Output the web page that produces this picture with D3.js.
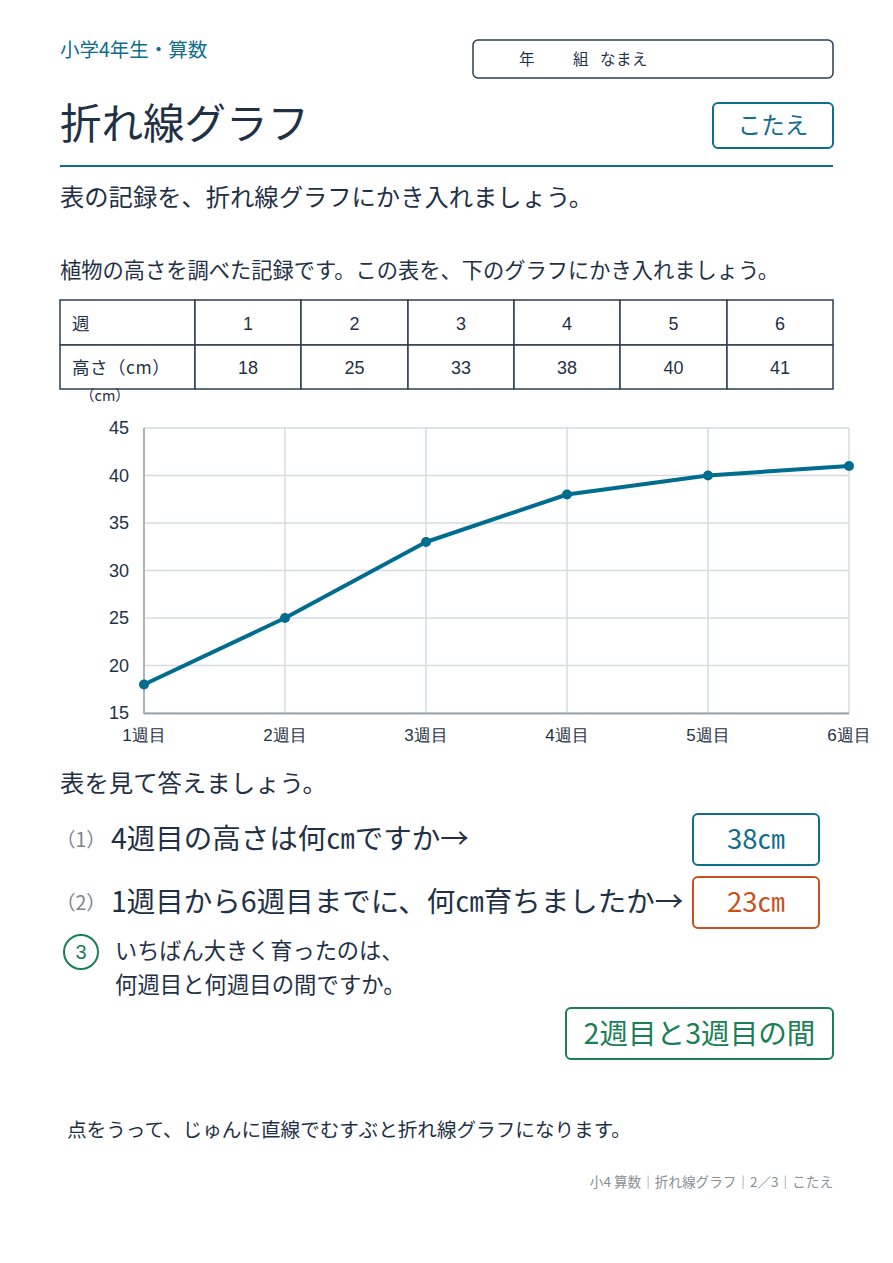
<!DOCTYPE html>
<html><head><meta charset="utf-8">
<script src="https://cdn.jsdelivr.net/npm/d3@7"></script>
<style>
html,body{margin:0;padding:0;background:#fff;}
svg{display:block;}
</style></head>
<body>
<script>
const weeks = [1, 2, 3, 4, 5, 6];
const heights = [18, 25, 33, 38, 40, 41];
const xLabels = ["1週目", "2週目", "3週目", "4週目", "5週目", "6週目"];
const yTicks = [15, 20, 25, 30, 35, 40, 45];
const answers = ["38㎝", "23㎝", "2週目と3週目の間"];

const W = 893, H = 1263;
const JP = "'Noto Sans CJK JP','Noto Sans',sans-serif";
const NUM = "'Liberation Sans',Arial,sans-serif";
const dark = "#1f3146", teal = "#0f6e8e", orange = "#c8511b", green = "#1a7f55";

const svg = d3.select("body").append("svg").attr("width", W).attr("height", H);

function txt(xp, yp, s, fs, col, ls, anchor, fam) {
  return svg.append("text").attr("x", xp).attr("y", yp).attr("font-family", fam || JP)
    .attr("font-size", fs).attr("fill", col).attr("letter-spacing", ls || 0)
    .attr("text-anchor", anchor || "start").text(s);
}

// header
txt(60, 57, "小学4年生・算数", 19.5, teal);
svg.append("rect").attr("x", 473).attr("y", 40).attr("width", 360).attr("height", 38).attr("rx", 5)
  .attr("fill", "none").attr("stroke", "#2d3e50").attr("stroke-width", 1.5);
txt(519, 65, "年", 15.5, dark);
txt(573, 65, "組", 15.5, dark);
txt(600, 65, "なまえ", 15.5, dark, 0.5);

txt(60, 139, "折れ線グラフ", 41.5, dark);
svg.append("rect").attr("x", 713).attr("y", 103).attr("width", 120).attr("height", 45).attr("rx", 5)
  .attr("fill", "none").attr("stroke", teal).attr("stroke-width", 2);
txt(773, 134, "こたえ", 23.5, teal, 0, "middle");
svg.append("line").attr("x1", 60).attr("x2", 833).attr("y1", 166).attr("y2", 166)
  .attr("stroke", teal).attr("stroke-width", 2);

txt(60, 206, "表の記録を、折れ線グラフにかき入れましょう。", 24.3, dark);
txt(60, 278, "植物の高さを調べた記録です。この表を、下のグラフにかき入れましょう。", 21.25, dark);

// table
const colX = [60, 195, 301, 408, 514, 620, 727, 833];
const rowY = [300, 345, 389];
const tg = svg.append("g");
const rows = [["週"].concat(weeks.map(String)), ["高さ（cm）"].concat(heights.map(String))];
rows.forEach((r, ri) => {
  r.forEach((v, ci) => {
    tg.append("rect").attr("x", colX[ci]).attr("y", rowY[ri]).attr("width", colX[ci + 1] - colX[ci])
      .attr("height", rowY[ri + 1] - rowY[ri]).attr("fill", "#fff").attr("stroke", "#2d3e50").attr("stroke-width", 1.5);
    const cy = (rowY[ri] + rowY[ri + 1]) / 2 + 7;
    if (ci === 0) {
      tg.append("text").attr("x", 72).attr("y", cy).attr("font-family", JP).attr("font-size", 17.5)
        .attr("letter-spacing", 0.5).attr("fill", dark).text(v);
    } else {
      tg.append("text").attr("x", (colX[ci] + colX[ci + 1]) / 2).attr("y", cy).attr("text-anchor", "middle")
        .attr("font-family", NUM).attr("font-size", 18).attr("fill", dark).text(v);
    }
  });
});

// chart
const x = d3.scaleLinear().domain([1, 6]).range([144, 849]);
const y = d3.scaleLinear().domain([15, 45]).range([713, 428]);
const cg = svg.append("g");
cg.append("text").attr("x", 80).attr("y", 401).attr("font-family", JP).attr("font-size", 14.5)
  .attr("fill", dark).text("（cm）");
cg.selectAll(".hg").data(yTicks).enter().append("line")
  .attr("x1", 144).attr("x2", 849).attr("y1", d => y(d)).attr("y2", d => y(d))
  .attr("stroke", "#d5dbe0").attr("stroke-width", 1.5);
cg.selectAll(".vg").data(weeks).enter().append("line")
  .attr("x1", d => x(d)).attr("x2", d => x(d)).attr("y1", 428).attr("y2", 713)
  .attr("stroke", "#d5dbe0").attr("stroke-width", 1.5);
cg.append("line").attr("x1", 144).attr("x2", 144).attr("y1", 428).attr("y2", 714)
  .attr("stroke", "#9aa5ae").attr("stroke-width", 1.5);
cg.append("line").attr("x1", 144).attr("x2", 849).attr("y1", 713.5).attr("y2", 713.5)
  .attr("stroke", "#9aa5ae").attr("stroke-width", 2);
cg.selectAll(".yl").data(yTicks).enter().append("text")
  .attr("x", 129).attr("y", d => y(d) + 6).attr("text-anchor", "end")
  .attr("font-family", NUM).attr("font-size", 18).attr("fill", dark).text(d => d);
cg.selectAll(".xl").data(weeks).enter().append("text")
  .attr("x", d => x(d)).attr("y", 741).attr("text-anchor", "middle")
  .attr("font-family", NUM).attr("font-size", 17).attr("fill", dark).text((d, i) => xLabels[i]);
const pts = weeks.map((w, i) => [w, heights[i]]);
cg.append("path").datum(pts).attr("fill", "none").attr("stroke", "#006d8f").attr("stroke-width", 4)
  .attr("stroke-linejoin", "round")
  .attr("d", d3.line().x(d => x(d[0])).y(d => y(d[1])));
cg.selectAll(".pt").data(pts).enter().append("circle")
  .attr("cx", d => x(d[0])).attr("cy", d => y(d[1])).attr("r", 5).attr("fill", "#006d8f");

// questions
txt(60, 792, "表を見て答えましょう。", 24.4, dark);
function q(yb, num, s) {
  txt(56, yb - 2, num, 19.5, "#7a8590");
  txt(111, yb, s, 28.5, dark);
}
q(849, "（1）", "4週目の高さは何㎝ですか→");
q(912, "（2）", "1週目から6週目までに、何㎝育ちましたか→");
function box(bx, by, bw, bh, col, s, fs, ls) {
  svg.append("rect").attr("x", bx).attr("y", by).attr("width", bw).attr("height", bh).attr("rx", 5)
    .attr("fill", "#fff").attr("stroke", col).attr("stroke-width", 2);
  txt(bx + bw / 2, by + bh / 2 + fs * 0.36, s, fs, col, ls || 0, "middle");
}
box(693, 814, 126, 51, teal, answers[0], 27.4);
box(693, 877, 126, 51, orange, answers[1], 27.4);
svg.append("circle").attr("cx", 81).attr("cy", 952).attr("r", 17).attr("fill", "none")
  .attr("stroke", green).attr("stroke-width", 2);
txt(81, 959, "3", 20, green, 0, "middle", NUM);
txt(115, 959, "いちばん大きく育ったのは、", 22.2, dark);
txt(115, 993, "何週目と何週目の間ですか。", 22.4, dark);
box(566, 1008, 267, 51, green, answers[2], 28.6);

txt(67, 1137, "点をうって、じゅんに直線でむすぶと折れ線グラフになります。", 19.6, dark);
txt(833, 1187, "小4 算数｜折れ線グラフ｜2／3｜こたえ", 13.6, "#8a8f95", 0, "end");
</script>
</body></html>
